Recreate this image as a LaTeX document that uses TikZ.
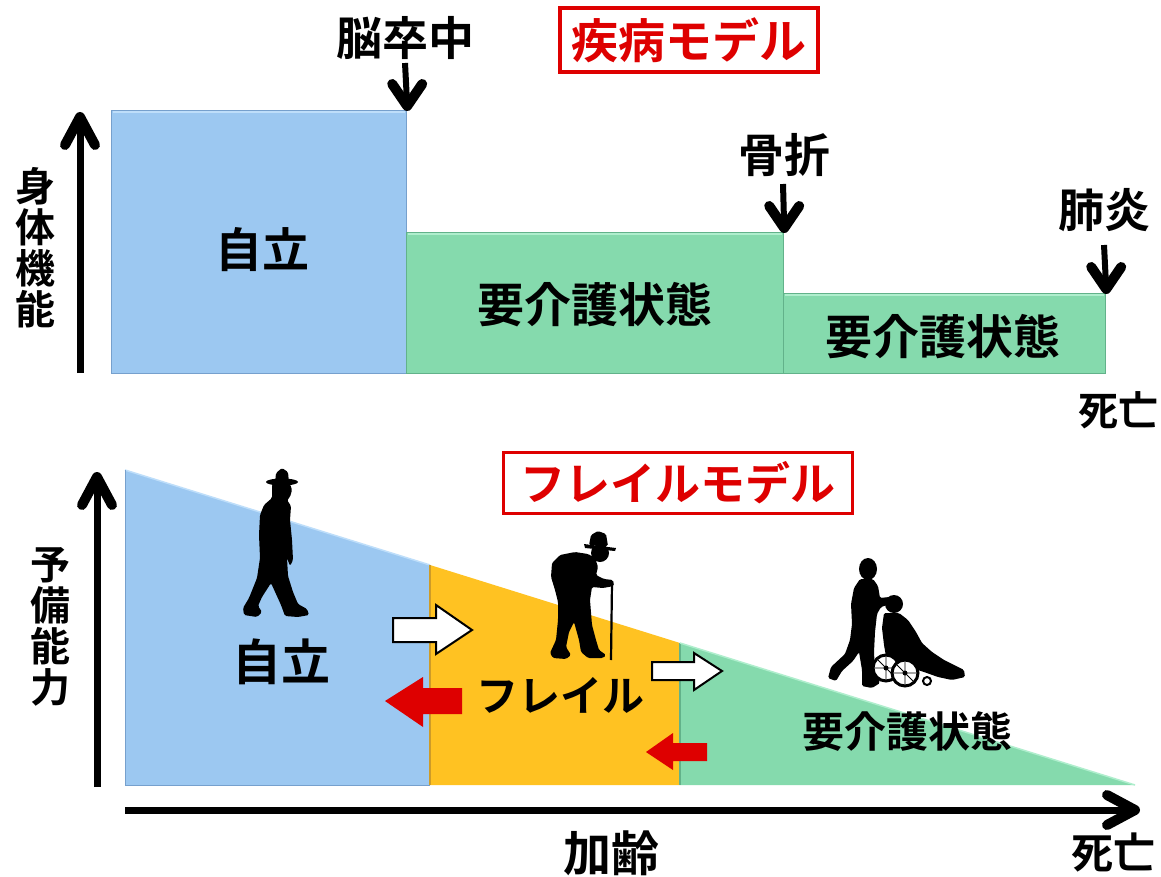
\documentclass[tikz,border=0pt]{standalone}
\usepackage{fontspec}
\newfontfamily\jp{Noto Sans CJK JP}[BoldFont={Noto Sans CJK JP Bold}]
\definecolor{sky}{RGB}{156,200,241}
\definecolor{skyedge}{RGB}{118,160,205}
\definecolor{skylight}{RGB}{190,222,250}
\definecolor{mint}{RGB}{133,218,173}
\definecolor{mintedge}{RGB}{98,178,138}
\definecolor{mintlight}{RGB}{175,238,205}
\definecolor{amber}{RGB}{255,194,34}
\definecolor{amberedge}{RGB}{205,155,40}
\definecolor{alarm}{RGB}{222,0,0}

\tikzset{
  jtext/.style={font=\jp\bfseries\fontsize{#1}{#1}\selectfont, inner sep=0pt},
  vlabel/.style={font=\jp\bfseries\fontsize{40}{41}\selectfont, align=center, inner sep=0pt},
  axisline/.style={line width=7pt},
  evtline/.style={line width=6pt},
  chev/.style={line width=10pt, line cap=round, line join=round},
  stagebox/.style={anchor=north west, inner sep=0pt, line width=1.2pt},
  titlebox/.style={draw=alarm, line width=3.5pt, text=alarm, inner sep=0pt},
  whitearrow/.style={fill=white, draw=black, line width=2pt, line join=miter},
  redarrow/.style={fill=alarm},
  figure/.style={fill=black, rounded corners=1.5pt},
}

\begin{document}
\begin{tikzpicture}[x=1pt,y=-1pt]
\useasboundingbox[fill=white] (0,0) rectangle (1161,877);

% ---------------- disease model ----------------
\node[titlebox, minimum width=258pt, minimum height=64pt, jtext=47] (diseasetitle) at (689,40) {疾病モデル};

\node[stagebox, fill=sky, draw=skyedge, minimum width=295pt, minimum height=263pt] (indep) at (111,110) {};
\node[stagebox, fill=mint, draw=mintedge, minimum width=377pt, minimum height=141pt] (care1) at (406,232) {};
\node[stagebox, fill=mint, draw=mintedge, minimum width=322pt, minimum height=80pt] (care2) at (783,293) {};
% soft bevel highlights
\draw[skylight, line width=2pt] ([shift={(2pt,-2pt)}]indep.north west) -- ([shift={(-2pt,-2pt)}]indep.north east);
\draw[mintlight, line width=2pt] ([shift={(2pt,-2pt)}]care1.north west) -- ([shift={(-2pt,-2pt)}]care1.north east);
\draw[mintlight, line width=2pt] ([shift={(2pt,-2pt)}]care2.north west) -- ([shift={(-2pt,-2pt)}]care2.north east);

\node[jtext=47] (indeplbl) at (262,250) {自立};
\node[jtext=47] (care1lbl) at (595,305) {要介護状態};
\node[jtext=47] (care2lbl) at (943,337) {要介護状態};

\node[jtext=46] (stroke) at (405,38) {脳卒中};
\node[jtext=46] (fracture) at (784,155) {骨折};
\node[jtext=46] (pneumonia) at (1104,210) {肺炎};
\node[jtext=40] (death1) at (1118,410) {死亡};

% event arrows: shaft plus open chevron head ending on the box corner
\coordinate (tipA) at ([yshift=4pt]indep.north east);
\coordinate (tipB) at ([yshift=4pt]care1.north east);
\coordinate (tipC) at ([yshift=4pt]care2.north east);
\draw[evtline] (405,63) -- (tipA);
\draw[chev] ([shift={(-15,-22)}]tipA) -- (tipA) -- ([shift={(15,-22)}]tipA);
\draw[evtline] (783,184) -- (tipB);
\draw[chev] ([shift={(-15,-22)}]tipB) -- (tipB) -- ([shift={(15,-22)}]tipB);
\draw[evtline] (1104,245) -- (tipC);
\draw[chev] ([shift={(-15,-22)}]tipC) -- (tipC) -- ([shift={(15,-22)}]tipC);

\coordinate (ax1base) at (80,373);
\coordinate (ax1top) at (80,117);
\draw[axisline] (ax1base) -- (ax1top);
\draw[chev] ([shift={(-15,28)}]ax1top) -- (ax1top) -- ([shift={(15,28)}]ax1top);
\node[vlabel] (ylabel1) at (35,248) {身\\体\\機\\能};

% ---------------- frailty model ----------------
\node[titlebox, minimum width=349pt, minimum height=61pt, jtext=45] (frailtitle) at (678,483) {フレイルモデル};

\coordinate (s0) at (125,470);
\coordinate (s1) at (430,565);
\coordinate (s2) at (680,643);
\coordinate (s3) at (1135,785);
\coordinate (b0) at (125,785);
\coordinate (b1) at (430,785);
\coordinate (b2) at (680,785);

\fill[sky] (s0) -- (s1) -- (b1) -- (b0) -- cycle;
\fill[amber] (s1) -- (s2) -- (b2) -- (b1) -- cycle;
\fill[mint] (s2) -- (s3) -- (b2) -- cycle;
\draw[skylight, line width=1.5pt] (s0) -- (s1);
\draw[skyedge, line width=1pt] (s0) -- (b0) -- (b1);
\draw[amberedge, line width=1.2pt] (s1) -- (b1);
\draw[mintedge, line width=1.2pt] (s2) -- (b2);
\draw[mintlight, line width=1.5pt] (s2) -- (s3);

\node[jtext=49] (indeplbl2) at (281,662) {自立};
\node[jtext=42] (frailLbl) at (560,695) {フレイル};
\node[jtext=42] (care3lbl) at (907,732) {要介護状態};

% transition arrows
\draw[whitearrow] (393,618) -- (436,618) -- (436,605) -- (472,630) -- (436,654) -- (436,642) -- (393,642) -- cycle;
\draw[whitearrow] (652,662) -- (694,662) -- (694,653) -- (722,671) -- (694,690) -- (694,680) -- (652,680) -- cycle;
\fill[redarrow] (462,688) -- (423,688) -- (423,677) -- (385,701) -- (423,727) -- (423,714) -- (462,714) -- cycle;
\fill[redarrow] (707,743) -- (673,743) -- (673,733) -- (646,752) -- (673,770) -- (673,761) -- (707,761) -- cycle;

% walking man with a hat
\fill[figure] (275,483) -- (276,473) -- (282,468) -- (288,472) -- (289,483) -- cycle;
\fill[black] (282,482) ellipse [x radius=16pt, y radius=3.5pt];
\fill[figure] (272,484) -- (290,484) -- (292,490) -- (290,497) -- (287,500)
  -- (291,506) -- (290,520) -- (292,540) -- (293,560) -- (290,566) -- (287,558)
  -- (288,576) -- (293,592) -- (298,604) -- (307,609) -- (309,615) -- (298,617) -- (285,616)
  -- (281,605) -- (271,583) -- (262,597) -- (258,606) -- (262,612) -- (257,617) -- (244,615)
  -- (243,608) -- (249,598) -- (257,578) -- (260,558) -- (259,535) -- (260,515)
  -- (264,505) -- (272,498) -- cycle;

% stooped man with a cane
\fill[figure] (589,545) -- (591,535) -- (598,531) -- (606,534) -- (608,546) -- cycle;
\fill[black] (584,544) -- (616,548) -- (615,551) -- (585,548) -- cycle;
\fill[black] (600,553) circle [radius=9pt];
\fill[figure] (595,558) -- (598,567) -- (596,575) -- (604,579) -- (613,580) -- (614,586)
  -- (603,588) -- (592,587) -- (590,600) -- (592,625) -- (596,640) -- (599,650) -- (606,655)
  -- (603,658) -- (588,658) -- (581,652) -- (579,640) -- (574,622) -- (569,632) -- (566,647)
  -- (571,655) -- (566,659) -- (553,658) -- (550,653) -- (556,640) -- (558,620) -- (558,602)
  -- (555,590) -- (551,577) -- (552,563) -- (560,555) -- (575,552) -- (588,554) -- cycle;
\draw[black, line width=2.2pt] (612,582) -- (611,660);

% carer pushing a wheelchair
\fill[black] (868,569) ellipse [x radius=9pt, y radius=11pt];
\fill[figure] (860,579) -- (873,579) -- (878,586) -- (880,598) -- (889,597) -- (893,603)
  -- (881,607) -- (877,614) -- (875,632) -- (874,652) -- (875,672) -- (880,683) -- (872,688)
  -- (862,686) -- (862,670) -- (859,652) -- (853,661) -- (842,671) -- (836,681) -- (828,678)
  -- (831,667) -- (845,654) -- (850,640) -- (852,624) -- (851,604) -- (854,588) -- cycle;
% seated passenger
\fill[black] (894,604) circle [radius=9pt];
\fill[figure] (884,613) -- (899,613) -- (908,620) -- (916,632) -- (922,643) -- (932,652)
  -- (944,660) -- (956,666) -- (964,670) -- (965,677) -- (952,680) -- (938,677) -- (924,672)
  -- (912,668) -- (899,668) -- (887,662) -- (884,645) -- (882,628) -- cycle;
\foreach \cx/\cy/\r in {886/668/13, 905/673/13} {
  \draw[black, line width=3pt, fill=white] (\cx,\cy) circle [radius=\r pt];
  \draw[black, line width=0.8pt] (\cx-\r,\cy) -- (\cx+\r,\cy) (\cx,\cy-\r) -- (\cx,\cy+\r)
    (\cx-0.7*\r,\cy-0.7*\r) -- (\cx+0.7*\r,\cy+0.7*\r);
  \fill[black] (\cx,\cy) circle [radius=2.5pt];
}
\draw[black, line width=2pt] (927,681) circle [radius=4pt];

% bottom axes
\coordinate (ax2base) at (97,787);
\coordinate (ax2top) at (97,477);
\draw[axisline] (ax2base) -- (ax2top);
\draw[chev] ([shift={(-15,28)}]ax2top) -- (ax2top) -- ([shift={(15,28)}]ax2top);
\coordinate (ax3start) at (125,810);
\coordinate (ax3end) at (1135,810);
\draw[axisline] (ax3start) -- (ax3end);
\draw[chev] ([shift={(-28,-15)}]ax3end) -- (ax3end) -- ([shift={(-28,15)}]ax3end);

\node[vlabel] (ylabel2) at (50,627) {予\\備\\能\\力};
\node[jtext=48] (aging) at (611,853) {加齢};
\node[jtext=42] (death2) at (1113,852) {死亡};
\end{tikzpicture}
\end{document}
